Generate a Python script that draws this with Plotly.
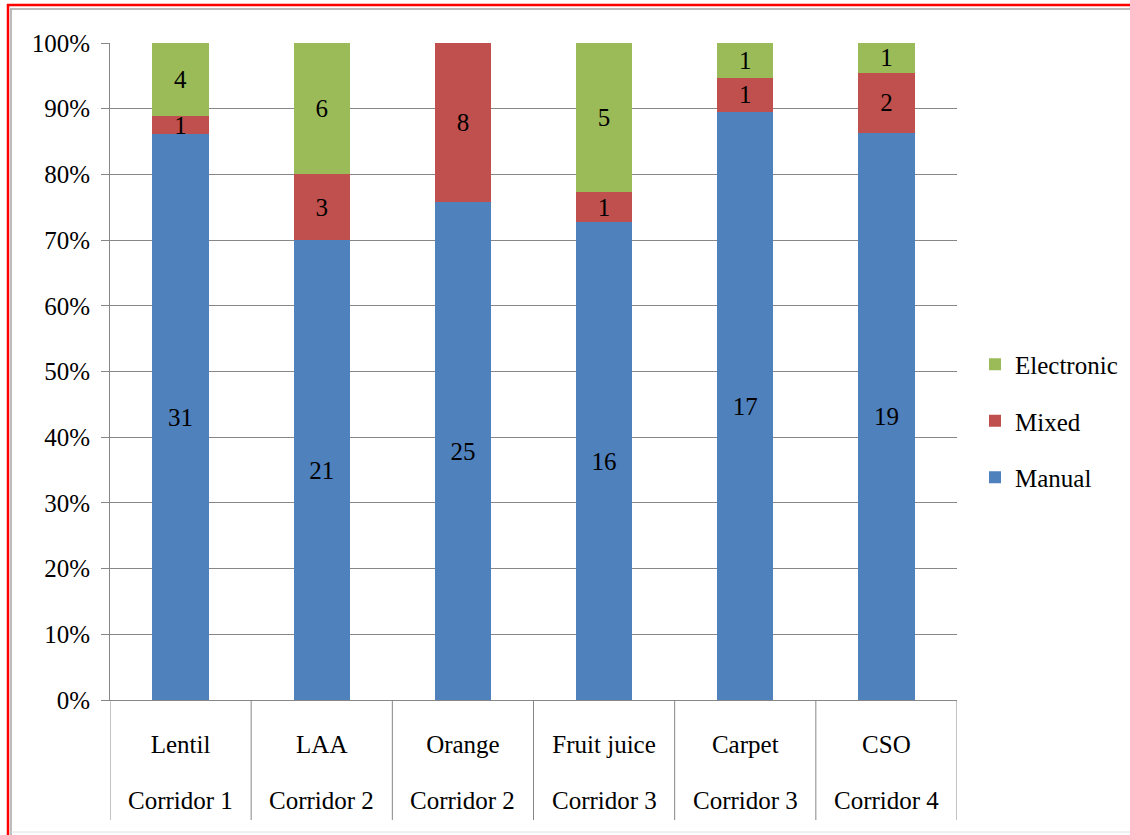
import plotly.graph_objects as go

# Counts of clearance procedure type per product / corridor
products = ["Lentil", "LAA", "Orange", "Fruit juice", "Carpet", "CSO"]
corridors = ["Corridor 1", "Corridor 2", "Corridor 2", "Corridor 3", "Corridor 3", "Corridor 4"]
manual = [31, 21, 25, 16, 17, 19]
mixed = [1, 3, 8, 1, 1, 2]
electronic = [4, 6, 0, 5, 1, 1]

series = [
    ("Manual", manual, "#4F81BD", 3),
    ("Mixed", mixed, "#C0504D", 2),
    ("Electronic", electronic, "#9BBB59", 1),
]

FONT = "'Liberation Serif', Tinos, 'DejaVu Serif', serif"
GRID = "#878787"
W, H = 1130, 835
ML, MR, MT, MB = 110, 173, 43, 135
PW, PH = W - ML - MR, H - MT - MB


def px_x(px):
    return (px - ML) / PW


def px_y(py):
    return (H - MB - py) / PH


fig = go.Figure()
for name, vals, color, rank in series:
    fig.add_trace(go.Bar(
        x=products,
        y=vals,
        name=name,
        legendgroup=name,
        legendrank=rank,
        marker=dict(color=color, line=dict(width=0)),
        width=0.4,
        text=[str(v) if v else "" for v in vals],
        textposition="inside",
        insidetextanchor="middle",
        textangle=0,
        constraintext="none",
        textfont=dict(family=FONT, size=25, color="#000000"),
        hoverinfo="skip",
    ))

shapes = []
# category separators below the axis
for i in range(len(products) + 1):
    shapes.append(dict(type="line", xref="x", yref="paper",
                       x0=i - 0.5, x1=i - 0.5, y0=0, y1=px_y(820),
                       line=dict(color=GRID, width=1)))
# page frame
shapes += [
    dict(type="line", xref="paper", yref="paper", x0=px_x(7), x1=px_x(W + 2),
         y0=px_y(5), y1=px_y(5), line=dict(color="#FF0000", width=2.5)),
    dict(type="line", xref="paper", yref="paper", x0=px_x(8), x1=px_x(8),
         y0=px_y(4), y1=px_y(H + 2), line=dict(color="#FF0000", width=2.5)),
    dict(type="line", xref="paper", yref="paper", x0=px_x(10), x1=px_x(W + 2),
         y0=px_y(9), y1=px_y(9), line=dict(color="#A6A6A6", width=1.5)),
    dict(type="line", xref="paper", yref="paper", x0=px_x(11), x1=px_x(11),
         y0=px_y(9), y1=px_y(H + 2), line=dict(color="#A6A6A6", width=1.5)),
    dict(type="line", xref="paper", yref="paper", x0=px_x(11), x1=px_x(W + 2),
         y0=px_y(832), y1=px_y(832), line=dict(color="#E0E0E0", width=1)),
]

annotations = [
    dict(x=p, y=px_y(800), xref="x", yref="paper", text=c, showarrow=False,
         yanchor="middle", font=dict(family=FONT, size=25, color="#000000"))
    for p, c in zip(products, corridors)
]

fig.update_layout(
    width=W, height=H,
    margin=dict(l=ML, r=MR, t=MT, b=MB, pad=0, autoexpand=False),
    barmode="stack",
    barnorm="percent",
    paper_bgcolor="white",
    plot_bgcolor="white",
    font=dict(family=FONT, size=25, color="#000000"),
    showlegend=True,
    legend=dict(
        x=px_x(975), xanchor="left",
        y=px_y(421), yanchor="middle",
        traceorder="grouped",
        tracegroupgap=21,
        font=dict(family=FONT, size=25, color="#000000"),
        bgcolor="rgba(0,0,0,0)",
    ),
    xaxis=dict(
        type="category",
        range=[-0.5, len(products) - 0.5],
        showline=True, linecolor=GRID, linewidth=1,
        ticks="", showgrid=False, zeroline=False,
        tickfont=dict(family=FONT, size=25, color="#000000"),
        ticklabelstandoff=22,
    ),
    yaxis=dict(
        range=[0, 100],
        tickmode="linear", tick0=0, dtick=10,
        ticksuffix="%",
        showgrid=True, gridcolor=GRID, gridwidth=1,
        showline=True, linecolor=GRID, linewidth=1,
        ticks="outside", ticklen=8, tickcolor=GRID,
        zeroline=False,
        tickfont=dict(family=FONT, size=25, color="#000000"),
        ticklabelstandoff=6,
    ),
    shapes=shapes,
    annotations=annotations,
)

fig.write_html("out.html")
